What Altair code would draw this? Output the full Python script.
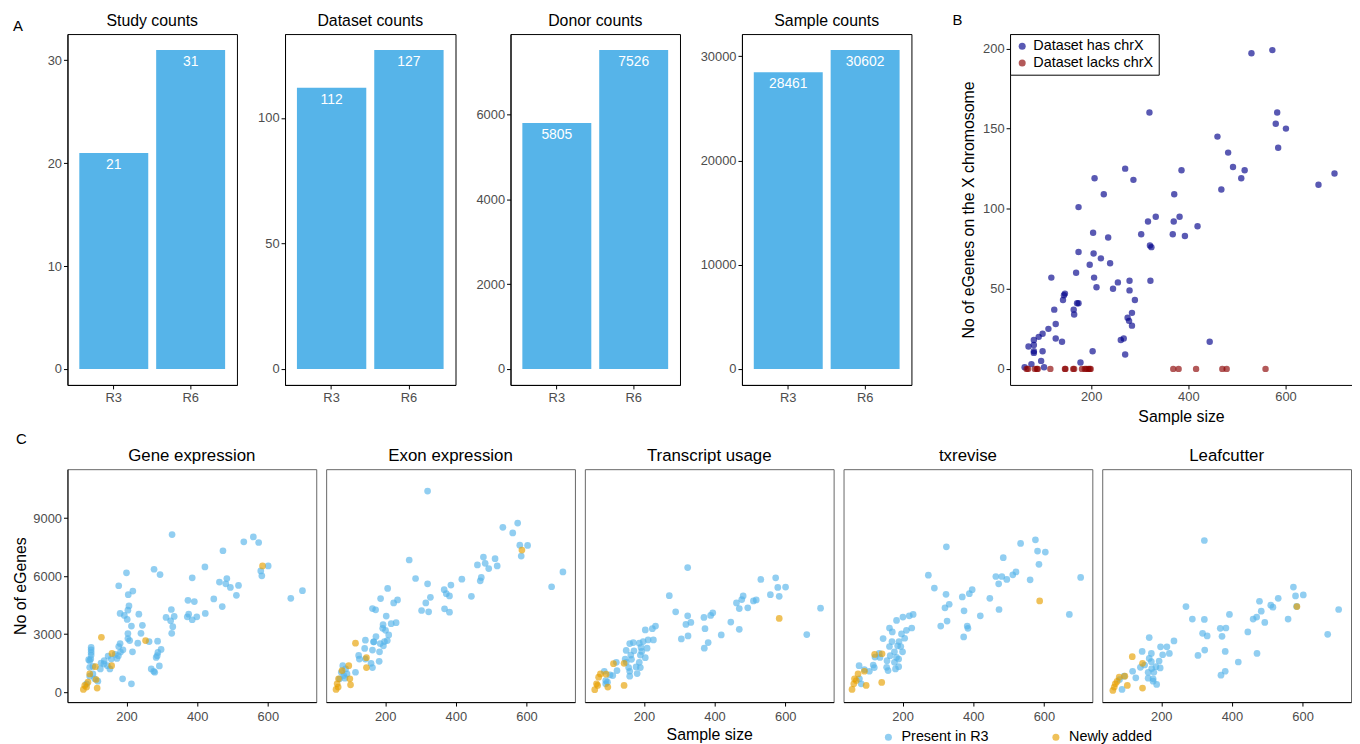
import altair as alt
import pandas as pd

FONT = "Liberation Sans"
BAR_BLUE = "#56B4E9"

# ---------------- Panel A ----------------
releases = ["R3", "R6"]
study_counts = [21, 31]
dataset_counts = [112, 127]
donor_counts = [5805, 7526]
sample_counts = [28461, 30602]
study_ticks = [0, 10, 20, 30]
dataset_ticks = [0, 50, 100]
donor_ticks = [0, 2000, 4000, 6000]
sample_ticks = [0, 10000, 20000, 30000]

# ---------------- Panel B ----------------
chrx_has_size = [530, 573, 320, 583, 580, 601, 460, 585, 482, 492,
                 516, 701, 509, 386, 270, 287, 207, 468, 668, 226,
                 371, 174, 333, 317, 370, 382, 303, 368, 419, 393,
                 204, 235, 321, 324, 174, 205, 220, 239, 197, 169,
                 118, 206, 255, 279, 322, 245, 211, 279, 146, 144,
                 142, 290, 171, 174, 164, 124, 165, 284, 275, 278,
                 284, 127, 112, 100, 92, 82, 127, 140, 261, 267,
                 71, 82, 82, 100, 82, 203, 270, 444, 97, 77,
                 178, 103, 63]
chrx_has_egenes = [197, 199, 160, 160, 153, 150, 145, 138, 135, 126,
                   124, 122, 119, 124, 125, 118, 119, 112, 115, 109,
                   109, 101, 95, 92, 92, 95, 84, 84, 89, 83,
                   85, 82, 77, 76, 73, 72, 69, 66, 65, 60,
                   57, 57, 54, 55, 55, 50, 51, 49, 47, 46,
                   43, 43, 41, 41, 37, 37, 34, 35, 32, 30,
                   27, 28, 25, 22, 20, 18, 19, 17, 18, 19,
                   14, 15, 11, 11, 10, 11, 9, 17, 5, 3,
                   4, 1, 1]
chrx_lacks_size = [67, 70, 84, 88, 90, 116, 146, 147, 163, 165,
                   181, 187, 190, 194, 197, 199, 369, 380, 416, 470,
                   479, 559]
chrx_lacks_egenes = [0, 0, 0, 0, 0, 0, 0, 0, 0, 0,
                     0, 0, 0, 0, 0, 0, 0, 0, 0, 0,
                     0, 0]
b_status = ["Dataset has chrX", "Dataset lacks chrX"]

# ---------------- Panel C ----------------
c_status = ["Present in R3", "Newly added"]
gene_r3_size = [329, 559, 532, 574, 473, 601, 422, 278, 295, 200,
                580, 583, 386, 484, 178, 463, 481, 494, 517, 511,
                218, 205, 665, 698, 447, 374, 392, 471, 207, 204,
                327, 182, 194, 235, 376, 423, 312, 335, 372, 386,
                399, 202, 214, 331, 245, 325, 204, 328, 241, 204,
                209, 182, 178, 232, 264, 288, 190, 183, 217, 289,
                298, 284, 287, 177, 148, 157, 137, 136, 126, 270,
                277, 293, 280, 189, 214, 100, 100, 100, 100, 99,
                96, 93, 96, 105, 96, 105, 128, 146, 173, 153,
                168, 87, 119, 110]
gene_r3_egenes = [8147, 8027, 7770, 7737, 7310, 6525, 6473, 6353, 6080, 6166,
                  6268, 6012, 5910, 5875, 5500, 5687, 5602, 5414, 5517, 5004,
                  5226, 5038, 4850, 5243, 4816, 4748, 4680, 4424, 4458, 4236,
                  4270, 4065, 3963, 4031, 4031, 4065, 3860, 3912, 3894, 3740,
                  3894, 3758, 3416, 3382, 3450, 3689, 3023, 3040, 3040, 2767,
                  2664, 2511, 2357, 2528, 2613, 2630, 2186, 2067, 2084, 2050,
                  2203, 1793, 1879, 1879, 1862, 1708, 1623, 1452, 1196, 1196,
                  1076, 1349, 1025, 683, 427, 2306, 2186, 2050, 1913, 1708,
                  1623, 1674, 1281, 939, 820, 1332, 1503, 1366, 1742, 1196,
                  1947, 427, 564, 683]
gene_new_size = [129, 254, 159, 158, 112, 96, 114, 117, 82, 78, 87, 585, 91]
gene_new_egenes = [2835, 2664, 1998, 1366, 1315, 939, 649, 205, 342, 137, 256, 6525, 512]

exon_r3_size = [320, 533, 575, 561, 581, 603, 585, 478, 511, 461,
                483, 493, 517, 703, 268, 671, 286, 320, 417, 472,
                469, 367, 386, 382, 373, 328, 315, 444, 207, 187,
                224, 235, 164, 173, 303, 323, 368, 382, 203, 231,
                217, 194, 193, 201, 210, 174, 144, 168, 198, 206,
                186, 195, 164, 184, 142, 125, 144, 127, 183, 160,
                164, 116, 80, 83, 88, 71, 76, 86, 92, 167]
exon_r3_egenes = [10400, 8523, 8745, 8232, 7600, 7583, 7037, 6985, 6900, 6576,
                  6661, 6388, 6525, 6217, 6832, 5448, 5875, 5602, 5841, 5927,
                  5756, 5295, 5534, 4970, 5090, 4902, 4612, 4953, 5363, 4834,
                  4612, 4765, 4321, 4253, 4219, 4150, 4304, 4133, 3928, 3587,
                  3536, 3484, 3296, 3194, 2955, 2869, 2681, 2596, 2613, 2664,
                  2511, 2391, 2169, 2084, 2255, 1896, 1708, 1708, 1588, 1486,
                  1264, 1025, 1366, 854, 1196, 683, 1025, 717, 939, 2596]
exon_new_size = [116, 147, 147, 97, 100, 102, 64, 68, 61, 67, 78, 587]
exon_new_egenes = [2528, 1776, 1264, 1366, 683, 376, 427, 683, 137, 256, 1110, 7344]

tx_r3_size = [324, 531, 573, 579, 601, 558, 583, 481, 477, 462,
              470, 494, 510, 518, 700, 272, 290, 324, 319, 333,
              370, 389, 395, 373, 446, 470, 419, 306, 325, 382,
              371, 661, 233, 224, 204, 227, 212, 198, 187, 170,
              160, 192, 209, 172, 194, 150, 190, 204, 163, 165,
              147, 122, 187, 178, 190, 181, 160, 160, 157, 124,
              112, 88, 104, 92, 97, 92, 150]
tx_r3_egenes = [6439, 5824, 5910, 5414, 5431, 5039, 4953, 4970, 4782, 4612,
                4321, 4355, 4714, 4765, 4338, 4987, 4150, 3946, 3501, 3604,
                3860, 3963, 4099, 3279, 3621, 3245, 2955, 2750, 2903, 2562,
                2272, 2972, 3416, 3279, 3211, 2699, 2699, 2613, 2528, 2562,
                2511, 2306, 2272, 2135, 2101, 2152, 1913, 1776, 1913, 1691,
                1708, 1537, 1537, 1298, 1264, 956, 1076, 820, 1264, 1110,
                854, 1076, 888, 427, 512, 597, 1537]
tx_new_size = [583, 114, 144, 144, 98, 93, 66, 61, 69, 72, 77]
tx_new_egenes = [3809, 1469, 1486, 342, 256, 922, 427, 120, 342, 769, 939]

txr_r3_size = [324, 534, 576, 582, 604, 485, 586, 464, 481, 472,
               495, 512, 521, 561, 704, 273, 290, 323, 320, 332,
               369, 389, 397, 374, 447, 473, 420, 308, 326, 383,
               385, 373, 672, 230, 219, 201, 183, 226, 211, 197,
               163, 171, 145, 170, 190, 206, 186, 195, 200, 163,
               177, 165, 136, 122, 183, 189, 156, 177, 117, 155,
               159, 180, 189, 106, 77, 92, 78, 83, 120, 134]
txr_r3_egenes = [7515, 7686, 7874, 7293, 7242, 6951, 6610, 5978, 5978, 5602,
                 5824, 6063, 6217, 5807, 5927, 6046, 5380, 5056, 4355, 4543,
                 4919, 5090, 5295, 4202, 4850, 4270, 3946, 3416, 3672, 3416,
                 3296, 2852, 4014, 4014, 3946, 3877, 3706, 3313, 3194, 3006,
                 3313, 3108, 2767, 2613, 2613, 2784, 2391, 2357, 2084, 2357,
                 2084, 1879, 1793, 1810, 1793, 1708, 1623, 1537, 1400, 1281,
                 1110, 1196, 1315, 1076, 1366, 1161, 683, 427, 1264, 1998]
txr_new_size = [588, 121, 142, 141, 97, 92, 64, 57, 62, 69, 74]
txr_new_egenes = [4714, 1947, 1981, 495, 342, 1076, 683, 137, 427, 597, 939]

leaf_r3_size = [322, 574, 602, 580, 531, 478, 510, 516, 483, 470,
                460, 493, 559, 702, 671, 270, 288, 322, 317, 330,
                393, 367, 372, 383, 445, 323, 304, 381, 418, 471,
                381, 369, 166, 236, 198, 216, 223, 204, 146, 172,
                166, 141, 172, 185, 197, 194, 173, 179, 163, 119,
                128, 163, 177, 187, 95, 89, 82, 177, 153, 583]
leaf_r3_egenes = [7840, 5431, 5022, 4970, 4850, 4697, 4492, 4390, 4185, 3877,
                  3775, 3604, 3775, 4270, 2989, 4424, 3775, 3758, 3040, 2903,
                  4014, 3296, 2886, 3313, 3108, 2169, 1896, 2101, 1554, 1998,
                  1076, 871, 2818, 2647, 2340, 2340, 1998, 1930, 2101, 1998,
                  1742, 1281, 1571, 1315, 1247, 1606, 1213, 1025, 1025, 1076,
                  734, 717, 564, 393, 820, 137, 649, 683, 1400, 4430]
leaf_new_size = [584, 118, 147, 147, 104, 97, 70, 63, 67, 75, 81]
leaf_new_egenes = [4424, 1827, 1486, 205, 342, 820, 427, 85, 256, 547, 769]

X_DOMAIN = [33, 737]


def text_mark(text, x, y, size, align="left"):
    return alt.Chart(pd.DataFrame({"t": [text]})).mark_text(
        align=align, baseline="middle", fontSize=size, font=FONT, color="black"
    ).encode(x=alt.value(x), y=alt.value(y), text="t:N")


def bar_panel(title, values, ticks, width, letter=None):
    df = pd.DataFrame({"release": releases, "count": values, "base": [0, 0]})
    top = max(values)
    yscale = alt.Scale(domain=[-0.05 * top, 1.05 * top], nice=False, zero=False)
    x = alt.X("release:N", title=None, sort=releases,
              scale=alt.Scale(paddingInner=0.103, paddingOuter=0.154),
              axis=alt.Axis(labelAngle=0, labelPadding=3))
    bars = alt.Chart(df).mark_bar(color=BAR_BLUE).encode(
        x=x,
        y=alt.Y("count:Q", scale=yscale, title=None,
                axis=alt.Axis(values=ticks, format="d")),
        y2="base:Q",
    )
    labels = alt.Chart(df).mark_text(
        color="white", baseline="top", dy=5, fontSize=14, font=FONT
    ).encode(x=x, y=alt.Y("count:Q", scale=yscale),
             text=alt.Text("count:Q", format="d"))
    layers = [bars, labels, text_mark(title, width / 2, -13, 16, align="center")]
    if letter:
        layers.append(text_mark(letter, -55, -8, 15))
    return alt.layer(*layers).properties(
        width=width, height=354,
        view=alt.ViewBackground(stroke="black", strokeWidth=1),
    )


p1 = bar_panel("Study counts", study_counts, study_ticks, 171, letter="A")
p2 = bar_panel("Dataset counts", dataset_counts, dataset_ticks, 172)
p3 = bar_panel("Donor counts", donor_counts, donor_ticks, 171)
p4 = bar_panel("Sample counts", sample_counts, sample_ticks, 171)

b_df = pd.DataFrame({
    "size": chrx_has_size + chrx_lacks_size,
    "egenes": chrx_has_egenes + chrx_lacks_egenes,
    "status": [b_status[0]] * len(chrx_has_size) + [b_status[1]] * len(chrx_lacks_size),
})
b_points = alt.Chart(b_df).mark_circle(size=42, opacity=0.65).encode(
    x=alt.X("size:Q", scale=alt.Scale(domain=X_DOMAIN, nice=False, zero=False),
            axis=alt.Axis(values=[200, 400, 600], title="Sample size", titlePadding=5)),
    y=alt.Y("egenes:Q", scale=alt.Scale(domain=[-10, 209], nice=False, zero=False),
            axis=alt.Axis(values=[0, 50, 100, 150, 200],
                          title="No of eGenes on the X chromosome", titlePadding=6)),
    color=alt.Color("status:N",
                    scale=alt.Scale(domain=b_status, range=["#00008B", "#8B0000"]),
                    legend=alt.Legend(orient="top-left", offset=0, title=None,
                                      strokeColor="black", fillColor="white",
                                      padding=5, labelFontSize=14.5, symbolSize=50,
                                      symbolType="circle", rowPadding=2,
                                      labelFont=FONT)),
)
pB = alt.layer(b_points, text_mark("B", -58, -14, 15)).properties(
    width=345, height=354, view=alt.ViewBackground(stroke=None)
)

c_legend = alt.Legend(orient="none", legendX=821, legendY=263, direction="horizontal",
                      title=None, labelFontSize=14.5, symbolSize=50, symbolType="circle",
                      columnPadding=60, padding=0, labelOffset=6, labelFont=FONT)


def c_panel(name, r3x, r3y, newx, newy, first=False, xtitle=False):
    df = pd.DataFrame({
        "size": r3x + newx,
        "egenes": r3y + newy,
        "status": [c_status[0]] * len(r3x) + [c_status[1]] * len(newx),
    })
    if first:
        yaxis = alt.Axis(values=[0, 3000, 6000, 9000], format="d",
                         title="No of eGenes", titlePadding=4)
    else:
        yaxis = None
    pts = alt.Chart(df).mark_circle(size=46, opacity=0.65).encode(
        x=alt.X("size:Q", scale=alt.Scale(domain=X_DOMAIN, nice=False, zero=False),
                axis=alt.Axis(values=[200, 400, 600], title="Sample size" if xtitle else None,
                              labelPadding=5, titlePadding=3)),
        y=alt.Y("egenes:Q", scale=alt.Scale(domain=[-520, 11530], nice=False, zero=False),
                axis=yaxis),
        color=alt.Color("status:N", scale=alt.Scale(domain=c_status, range=["#56B4E9", "#E69F00"]),
                        legend=c_legend),
    )
    layers = [pts, text_mark(name, 125.5, -13, 17, align="center")]
    if first:
        layers.append(text_mark("C", -52, -30, 15))
    return alt.layer(*layers).properties(
        width=251, height=235,
        view=alt.ViewBackground(stroke="#666666", strokeWidth=1),
    )


f1 = c_panel("Gene expression", gene_r3_size, gene_r3_egenes, gene_new_size, gene_new_egenes, first=True)
f2 = c_panel("Exon expression", exon_r3_size, exon_r3_egenes, exon_new_size, exon_new_egenes)
f3 = c_panel("Transcript usage", tx_r3_size, tx_r3_egenes, tx_new_size, tx_new_egenes, xtitle=True)
f4 = c_panel("txrevise", txr_r3_size, txr_r3_egenes, txr_new_size, txr_new_egenes)
f5 = c_panel("Leafcutter", leaf_r3_size, leaf_r3_egenes, leaf_new_size, leaf_new_egenes)

top_bars = alt.hconcat(p1, p2, p3, p4, spacing=18.5)
top_row = alt.hconcat(top_bars, alt.hconcat(pB), spacing=41).resolve_scale(color="independent")
bottom_row = alt.hconcat(f1, f2, f3, f4, f5, spacing=8)

chart = alt.vconcat(top_row, bottom_row, spacing=7).resolve_scale(
    color="independent"
).properties(
    padding={"left": 4, "top": 1, "right": 0, "bottom": 0}
).configure(font=FONT).configure_axis(
    labelFont=FONT, titleFont=FONT, labelFontSize=13, labelColor="#4D4D4D",
    titleFontSize=16, titleFontWeight="normal", titleColor="black",
    domainColor="black", tickColor="black", tickSize=4, labelPadding=2, grid=False,
).configure_legend(labelFont=FONT, labelColor="black")

chart.save("out.html", embed_options={"renderer": "svg", "actions": False})
